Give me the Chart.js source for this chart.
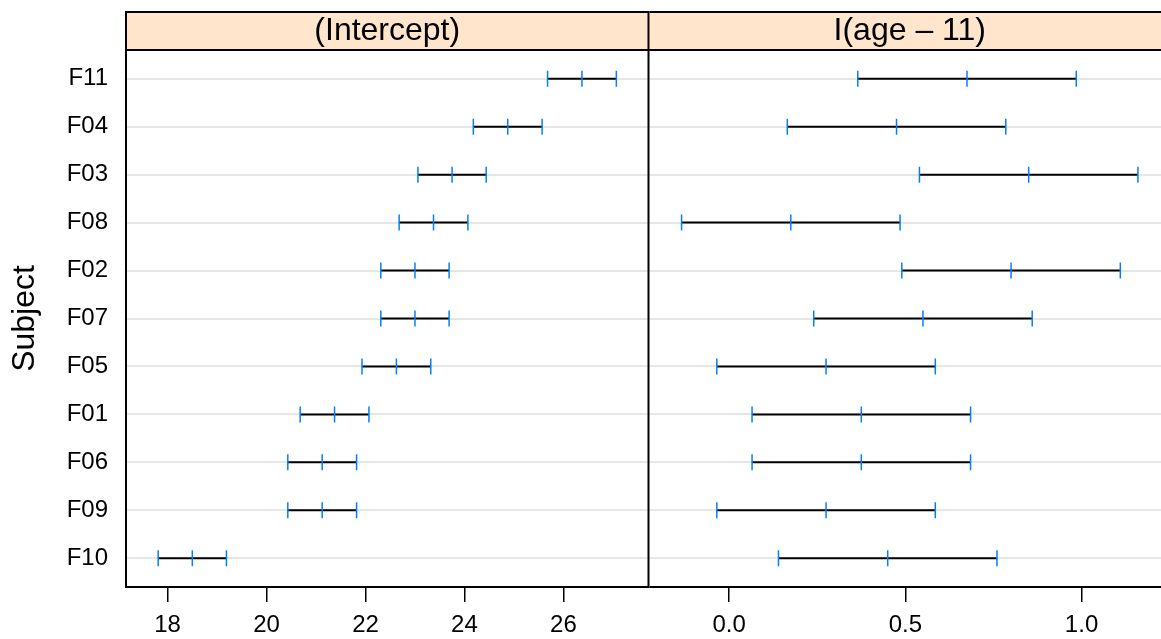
<!DOCTYPE html>
<html>
<head>
<meta charset="utf-8">
<script src="https://cdn.jsdelivr.net/npm/chart.js@4/dist/chart.umd.min.js"></script>
<style>
  html, body { margin: 0; padding: 0; background: #fff; overflow: hidden; width: 1161px; height: 639px; }
  #left { position: absolute; left: 0; top: 0; }
  #right { position: absolute; left: 640px; top: 0; }
</style>
</head>
<body>
<canvas id="right" width="540" height="639"></canvas>
<canvas id="left" width="658" height="639"></canvas>
<script>
// subjects, top row first
const subjects = ['F11', 'F04', 'F03', 'F08', 'F02', 'F07', 'F05', 'F01', 'F06', 'F09', 'F10'];

// (Intercept) panel
const interceptLower = [25.68, 24.18, 23.06, 22.68, 22.31, 22.31, 21.93, 20.68, 20.43, 20.43, 17.81];
const interceptEst   = [26.375, 24.875, 23.75, 23.375, 23.0, 23.0, 22.625, 21.375, 21.125, 21.125, 18.5];
const interceptUpper = [27.07, 25.57, 24.44, 24.07, 23.69, 23.69, 23.32, 22.07, 21.82, 21.82, 19.19];
const interceptTicks = [18, 20, 22, 24, 26];

// I(age - 11) panel
const slopeLower = [0.365, 0.165, 0.54, -0.135, 0.49, 0.24, -0.035, 0.065, 0.065, -0.035, 0.14];
const slopeEst   = [0.675, 0.475, 0.85, 0.175, 0.8, 0.55, 0.275, 0.375, 0.375, 0.275, 0.45];
const slopeUpper = [0.985, 0.785, 1.16, 0.485, 1.11, 0.86, 0.585, 0.685, 0.685, 0.585, 0.76];
const slopeTicks = [0.0, 0.5, 1.0];

Chart.defaults.font.family = "'Liberation Sans', Arial, sans-serif";
Chart.defaults.color = '#000';

const n = subjects.length;
const rowY = i => n - i;

// peach strip behind the title, black box round the panel
// (second panel skips its left side, the first panel's right side is the divider)
const lattice = {
  id: 'lattice',
  beforeDraw(chart, args, opts) {
    const t = chart.titleBlock;
    const ctx = chart.ctx;
    ctx.save();
    ctx.fillStyle = '#ffe5cc';
    ctx.fillRect(t.left, t.top, t.width, t.height);
    ctx.strokeStyle = '#000';
    ctx.lineWidth = 2;
    ctx.beginPath();
    ctx.moveTo(t.left, t.top);
    ctx.lineTo(t.right, t.top);
    ctx.lineTo(t.right, t.bottom);
    ctx.lineTo(t.left, t.bottom);
    if (!opts.noLeft) ctx.closePath();
    ctx.stroke();
    ctx.restore();
  },
  afterDraw(chart, args, opts) {
    const a = chart.chartArea;
    const ctx = chart.ctx;
    ctx.save();
    ctx.strokeStyle = '#000';
    ctx.lineWidth = 2;
    ctx.beginPath();
    ctx.moveTo(a.left, a.top);
    ctx.lineTo(a.right, a.top);
    ctx.lineTo(a.right, a.bottom);
    ctx.lineTo(a.left, a.bottom);
    if (!opts.noLeft) ctx.closePath();
    ctx.stroke();
    ctx.restore();
  }
};

function makePanel(el, title, lower, est, upper, xMin, xMax, xTicks, fmt, first, padRight) {
  const marks = [];
  subjects.forEach((s, i) => {
    marks.push({ x: lower[i], y: rowY(i) }, { x: est[i], y: rowY(i) }, { x: upper[i], y: rowY(i) });
  });
  const datasets = [{
    data: marks,
    pointStyle: 'line',
    rotation: 90,
    radius: 8,
    borderColor: '#0080ff',
    borderWidth: 1.5,
    order: 0
  }];
  subjects.forEach((s, i) => {
    datasets.push({
      data: [{ x: lower[i], y: rowY(i) }, { x: upper[i], y: rowY(i) }],
      showLine: true,
      borderColor: '#000',
      borderWidth: 2,
      pointRadius: 0,
      order: 1
    });
  });

  new Chart(document.getElementById(el), {
    type: 'scatter',
    data: { datasets: datasets },
    plugins: [lattice],
    options: {
      responsive: false,
      animation: false,
      layout: { padding: { top: 12, right: padRight, left: 0, bottom: 0 } },
      plugins: {
        lattice: { noLeft: !first },
        legend: { display: false },
        tooltip: { enabled: false },
        title: {
          display: true,
          text: title,
          fullSize: false,
          padding: 0,
          font: { size: 32, weight: 'normal', lineHeight: 38 / 32 },
          color: '#000'
        }
      },
      scales: {
        x: {
          type: 'linear',
          min: xMin,
          max: xMax,
          afterBuildTicks: sc => { sc.ticks = xTicks.map(v => ({ value: v })); },
          afterFit: sc => { sc.height = 52; },
          border: { display: false },
          grid: { drawOnChartArea: false, drawTicks: true, tickLength: 15, color: '#000', lineWidth: 1.5 },
          ticks: { font: { size: 24 }, padding: 9, maxRotation: 0, callback: fmt }
        },
        y: {
          type: 'linear',
          min: 0.4,
          max: n + 0.6,
          afterBuildTicks: sc => { sc.ticks = subjects.map((s, i) => ({ value: rowY(i) })); },
          afterFit: sc => { sc.width = first ? 126 : 8; },
          border: { display: false },
          grid: { color: '#e6e6e6', lineWidth: 2, drawTicks: false },
          ticks: {
            display: first,
            font: { size: 24 },
            padding: 18,
            callback: v => subjects[n - v]
          },
          title: {
            display: first,
            text: 'Subject',
            font: { size: 32 },
            padding: { top: 6, bottom: 0 }
          }
        }
      }
    }
  });
}

makePanel('left', '(Intercept)', interceptLower, interceptEst, interceptUpper,
  17.16, 27.72, interceptTicks, v => String(v), true, 2);
makePanel('right', 'I(age \u2013 11)', slopeLower, slopeEst, slopeUpper,
  -0.226, 1.251, slopeTicks, v => v.toFixed(1), false, 10);
</script>
</body>
</html>
